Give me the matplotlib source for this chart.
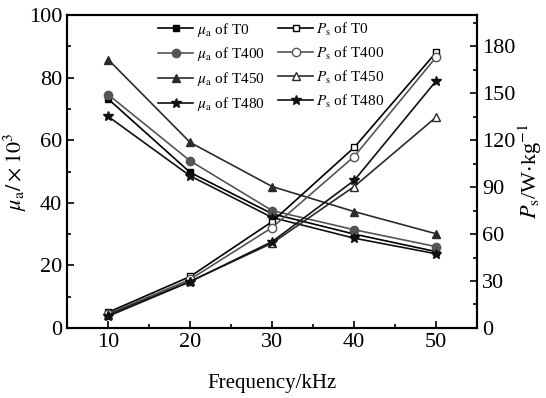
import matplotlib.pyplot as plt
import matplotlib.ticker as mticker

plt.rcParams['font.family'] = ['Liberation Serif', 'DejaVu Serif']
plt.rcParams['mathtext.fontset'] = 'stix'

freq = [10, 20, 30, 40, 50]
samples = ['T0', 'T400', 'T450', 'T480']

# permeability mu_a (x10^3)
mu_T0 = [73.2, 49.7, 36.5, 30.0, 24.4]
mu_T400 = [74.6, 53.4, 37.5, 31.4, 26.0]
mu_T450 = [85.8, 59.3, 45.2, 37.2, 30.1]
mu_T480 = [67.6, 48.6, 35.3, 28.7, 23.7]

# core loss Ps (W/kg)
ps_T0 = [10.0, 32.9, 68.0, 115.4, 176.2]
ps_T400 = [9.0, 31.1, 64.2, 109.6, 173.2]
ps_T450 = [8.5, 29.8, 54.2, 90.4, 134.8]
ps_T480 = [7.5, 29.6, 55.2, 94.3, 158.0]

mu_data = [mu_T0, mu_T400, mu_T450, mu_T480]
ps_data = [ps_T0, ps_T400, ps_T450, ps_T480]
colors = ['black', '#555555', '#2b2b2b', '#111111']
markers = ['s', 'o', '^', '*']
msizes = [5, 6, 5.5, 7]

fig = plt.figure(figsize=(5.46, 3.98), dpi=100)
ax = fig.add_axes([0.123, 0.176, 0.751, 0.786])
ax2 = ax.twinx()

handles = []
for name, y, c, m, s in zip(samples, mu_data, colors, markers, msizes):
    h, = ax.plot(freq, y, color=c, marker=m, ms=s, lw=1.2,
                 label=r'$\mu_{\rm a}$ of ' + name)
    handles.append(h)
for name, y, c, m, s in zip(samples, ps_data, colors, markers, msizes):
    face = 'white' if m != '*' else c
    h, = ax2.plot(freq, y, color=c, marker=m, ms=s, lw=1.2,
                  markerfacecolor=face, label=r'$P_{\rm s}$ of ' + name)
    handles.append(h)

ax.set_xlim(5, 55)
ax.set_ylim(0, 100)
ax2.set_ylim(0, 200)
ax.set_xticks([10, 20, 30, 40, 50])
ax.set_yticks([0, 20, 40, 60, 80, 100])
ax2.set_yticks([0, 30, 60, 90, 120, 150, 180])
ax.xaxis.set_minor_locator(mticker.MultipleLocator(5))
ax.yaxis.set_minor_locator(mticker.MultipleLocator(10))
ax2.yaxis.set_minor_locator(mticker.MultipleLocator(15))

for a in (ax, ax2):
    a.tick_params(which='both', direction='in', labelsize=16, width=1.2)
    a.tick_params(which='major', length=5)
    a.tick_params(which='minor', length=3)
    for sp in a.spines.values():
        sp.set_linewidth(1.5)

ax.set_xlabel('Frequency/kHz', fontsize=15, labelpad=16)
ax.set_ylabel(r'$\mu_{\rm a}/\times10^3$', fontsize=16, labelpad=0)
ax2.set_ylabel(r'$P_{\rm s}$/W$\cdot$kg$^{-1}$', fontsize=16, labelpad=1)

ax2.legend(handles=handles, ncol=2, loc='upper left',
           bbox_to_anchor=(0.2, 1.012), frameon=False, fontsize=11,
           handlelength=2.3, handletextpad=0.2, columnspacing=0.9,
           labelspacing=0.45, borderaxespad=0.2)

fig.savefig('out.png', dpi=100)
